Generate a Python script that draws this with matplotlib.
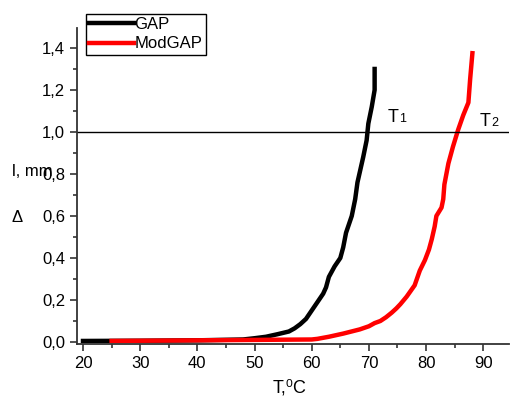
import numpy as np
import matplotlib
matplotlib.use("Agg")
import matplotlib.pyplot as plt
from matplotlib.ticker import FuncFormatter, MultipleLocator

plt.rcParams['font.family'] = ['Liberation Sans', 'DejaVu Sans']

gap_T = [20, 30, 40, 48, 50, 52, 54, 56, 57, 58, 59, 60, 61, 62, 62.5, 63, 64, 65,
         65.5, 66, 67, 67.6, 68, 68.5, 69, 69.6, 69.9, 70.5, 71, 71]
gap_I = [0.005, 0.006, 0.008, 0.012, 0.018, 0.025, 0.037, 0.05, 0.065, 0.085, 0.11,
         0.15, 0.19, 0.23, 0.26, 0.31, 0.36, 0.40, 0.45, 0.52, 0.60, 0.68, 0.76, 0.82,
         0.88, 0.96, 1.04, 1.12, 1.20, 1.30]

mod_T = [25, 35, 45, 55, 60, 61, 63, 65.5, 68.4, 70, 71, 72, 73, 74, 74.8, 75.5,
         76.6, 78, 78.9, 79.8, 80.5, 81, 81.5, 81.8, 82.7, 83, 83.2, 83.9, 84.7,
         85.6, 86.5, 87.4, 87.7, 88.1]
mod_I = [0.005, 0.007, 0.009, 0.011, 0.012, 0.015, 0.025, 0.04, 0.06, 0.075, 0.09,
         0.10, 0.118, 0.14, 0.16, 0.18, 0.216, 0.27, 0.34, 0.39, 0.44, 0.49, 0.55,
         0.60, 0.64, 0.68, 0.75, 0.85, 0.93, 1.01, 1.08, 1.14, 1.25, 1.375]

threshold = 1.0

fig = plt.figure(figsize=(5.11, 4.01), dpi=100)
ax = fig.add_axes([77 / 511, 1 - 344 / 401, 432 / 511, 316 / 401])

ax.plot(gap_T, gap_I, color='black', lw=3.2, label='GAP')
ax.plot(mod_T, mod_I, color='red', lw=3.2, label='ModGAP')
ax.axhline(threshold, color='black', lw=1)

ax.set_xlim(18.95, 94.5)
ax.set_ylim(-0.0095, 1.495)

ax.spines['top'].set_visible(False)
ax.spines['right'].set_visible(False)
for s in ('left', 'bottom'):
    ax.spines[s].set_linewidth(1.3)
    ax.spines[s].set_color('#333333')

ax.xaxis.set_major_locator(MultipleLocator(10))
ax.xaxis.set_minor_locator(MultipleLocator(5))
ax.yaxis.set_major_locator(MultipleLocator(0.2))
ax.yaxis.set_minor_locator(MultipleLocator(0.1))
ax.yaxis.set_major_formatter(FuncFormatter(lambda v, p: f"{v:.1f}".replace('.', ',')))
ax.tick_params(which='major', length=5, width=1.2, labelsize=12, color='#333333')
ax.tick_params(which='minor', length=3, width=1.2, color='#333333')

fig.text(290 / 511, 1 - 388 / 401, 'T,\u2070C', fontsize=13, ha='center', va='center')
fig.text(12 / 511, 1 - 172 / 401, 'l, mm', fontsize=12, ha='left', va='center')
fig.text(12 / 511, 1 - 217 / 401, '\u0394', fontsize=12, ha='left', va='center')

ax.text(73.3, 1.067, 'T', fontsize=13, ha='left', va='center')
ax.text(75.3, 1.062, '1', fontsize=9, ha='left', va='center')
ax.text(89.4, 1.05, 'T', fontsize=13, ha='left', va='center')
ax.text(91.4, 1.045, '2', fontsize=9, ha='left', va='center')

leg = fig.legend(loc='upper left', bbox_to_anchor=(86 / 511, 1 - 14 / 401),
                 fontsize=12, handlelength=2.7, handletextpad=0.0,
                 labelspacing=0.25, borderpad=0.2, borderaxespad=0,
                 fancybox=False, framealpha=1)
leg.get_frame().set_edgecolor('black')
leg.get_frame().set_linewidth(1.0)

fig.savefig('out.png', dpi=100)
